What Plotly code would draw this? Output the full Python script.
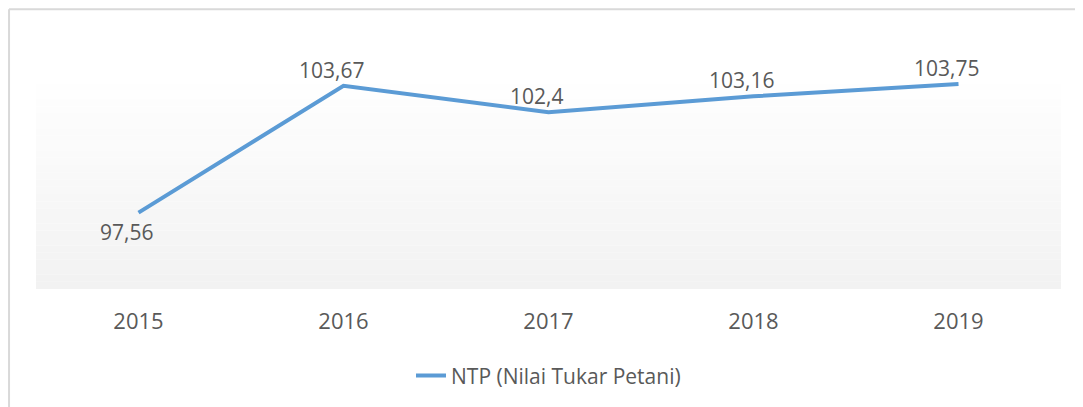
import plotly.graph_objects as go

YEARS = ["2015", "2016", "2017", "2018", "2019"]
NTP = [97.56, 103.67, 102.4, 103.16, 103.75]
LABELS = [f"{v:g}".replace(".", ",") for v in NTP]
SERIES_NAME = "NTP (Nilai Tukar Petani)"

LINE_COLOR = "#5b9bd5"
TEXT_COLOR = "#595959"
FONT = "Open Sans, Noto Sans, sans-serif"

fig = go.Figure(go.Scatter(
    x=YEARS, y=NTP, name=SERIES_NAME, mode="lines",
    line=dict(color=LINE_COLOR, width=4),
    cliponaxis=False,
))

# data labels: first one below the point, the rest above, nudged left like the original
# (category index used for x, since "2015" strings would be read as numbers)
for i, (val, lab) in enumerate(zip(NTP, LABELS)):
    fig.add_annotation(
        x=i, y=val, text=lab, showarrow=False,
        xshift=-12, yshift=-19 if i == 0 else 16,
        font=dict(size=21, color=TEXT_COLOR, family=FONT),
    )

# soft vertical gradient behind the plot area
shapes = []
steps = 30
for i in range(steps):
    t = i / (steps - 1)
    c = round(255 - 13 * t)
    shapes.append(dict(
        type="rect", xref="x domain", yref="y domain", layer="below",
        x0=0, x1=1, y0=1 - (i + 1) / steps, y1=1 - i / steps,
        fillcolor=f"rgb({c},{c},{c})", line_width=0,
    ))

# outer frame (only top and left edges are visible in the crop)
frame = dict(type="line", xref="paper", yref="paper", line=dict(color="#d9d9d9", width=2))
shapes.append(dict(frame, x0=-0.0263, x1=1.05, y0=1.277, y1=1.277))
shapes.append(dict(frame, x0=-0.0263, x1=-0.0263, y0=1.277, y1=-0.6))

# page body adds an 8px offset, so the figure is sized to fill the rest of the window
fig.update_layout(
    width=1075, height=399,
    margin=dict(l=28, r=22, t=62, b=117),
    paper_bgcolor="white", plot_bgcolor="white",
    font=dict(family=FONT, color=TEXT_COLOR, size=21),
    showlegend=True,
    legend=dict(orientation="h", x=0.5, xanchor="center", y=-0.39, yanchor="middle",
                font=dict(size=21, color=TEXT_COLOR)),
    xaxis=dict(type="category", range=[-0.5, 4.5], showgrid=False, showline=False,
               zeroline=False, ticks="outside", ticklen=13, tickcolor="rgba(0,0,0,0)",
               tickfont=dict(size=22, color=TEXT_COLOR), automargin=False),
    yaxis=dict(range=[93.88, 104.43], visible=False, automargin=False),
    shapes=shapes,
)

fig.write_html("out.html")
